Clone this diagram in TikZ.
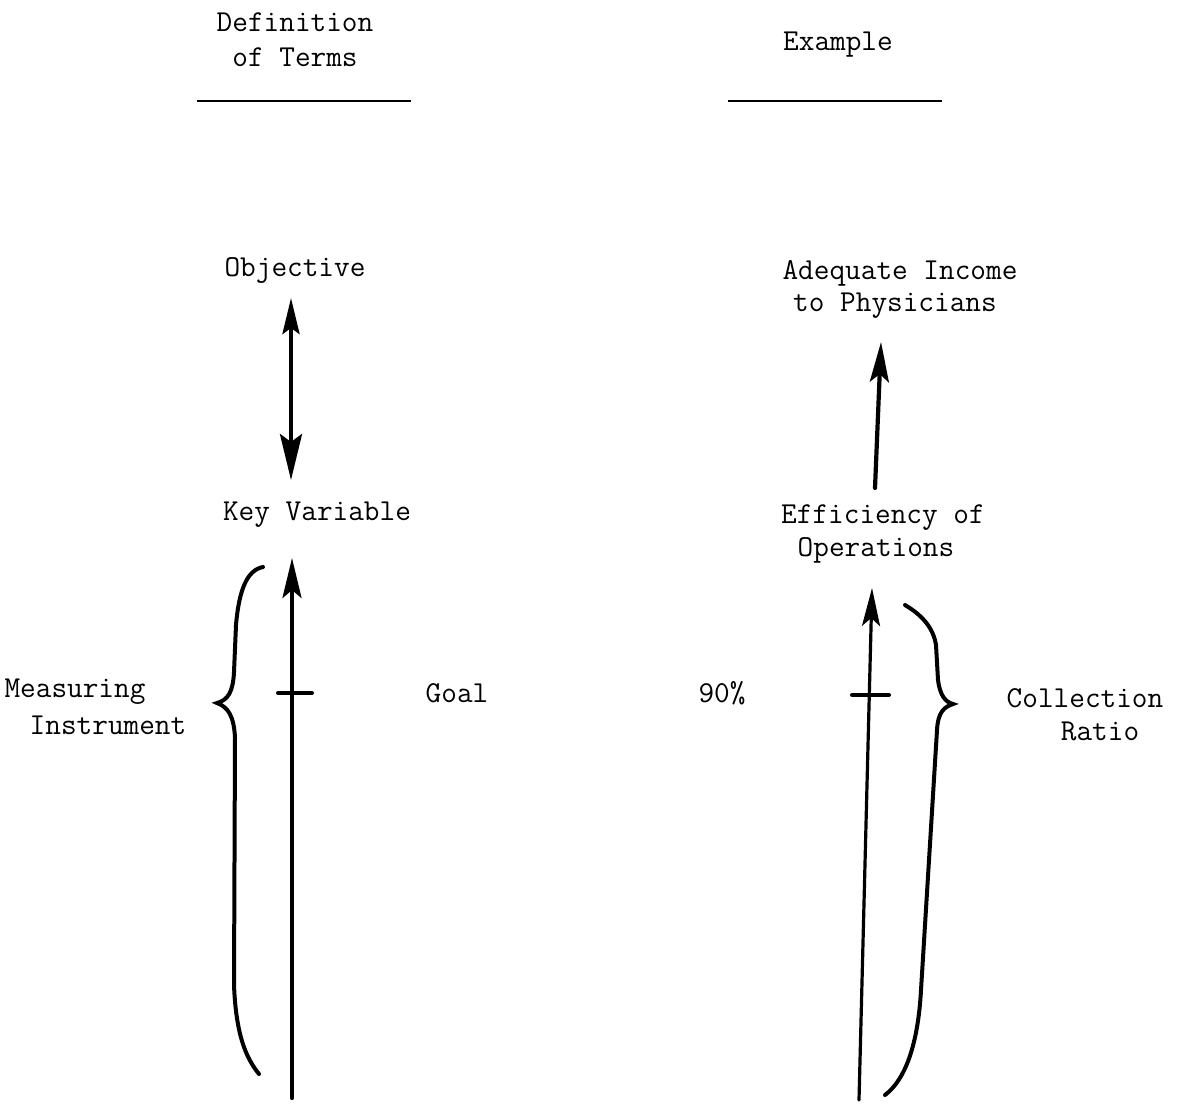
\documentclass[tikz,border=0pt]{standalone}
\usepackage{fontspec}
\usetikzlibrary{arrows.meta}
\begin{document}
\begin{tikzpicture}[x=0.5pt,y=-0.5pt,
  lbl/.style={font=\ttfamily\fontsize{15.2}{16.5}\selectfont, inner sep=0pt, align=center},
  rule/.style={line width=1.1pt},
  shaft/.style={line width=2.1pt, line cap=round},
  thinshaft/.style={line width=1.6pt, line cap=round},
  head/.style={-{Stealth[length=20pt,width=9.5pt,inset=4pt]}},
  brace/.style={line width=2pt, line cap=round},
  tick/.style={line width=2pt, line cap=round}]
\useasboundingbox (0,0) rectangle (1182,1103);

% column headings
\node[lbl] (defA) at (295,22) {Definition};
\node[lbl] (defB) at (295,57) {of Terms};
\node[lbl] (ex) at (838,45) {Example};
\draw[rule] (197,101) -- (411,101);
\draw[rule] (728,101) -- (942,101);

% left column: definitions
\node[lbl] (obj) at (295,270) {Objective};
\node[lbl] (kv) at (317,515) {Key Variable};
\node[lbl] (meas) at (75,692) {Measuring};
\node[lbl] (inst) at (108,725) {Instrument};
\node[lbl] (goal) at (457,693) {Goal};

\coordinate (dTop) at (291,298);
\coordinate (dBot) at (291,480);
\draw[shaft, {Stealth[length=18pt,width=8.5pt,inset=3pt]}-{Stealth[length=23pt,width=11pt,inset=4pt]}] (dTop) -- (dBot);

\coordinate (lBase) at (292,1098);
\coordinate (lTip) at (292,558);
\draw[shaft, head] (lBase) -- (lTip);
\coordinate (lTickA) at (278,693);
\coordinate (lTickB) at (312,693);
\draw[tick] (lTickA) -- (lTickB);

\draw[brace] (263,567) .. controls (247,570) and (239,590) .. (236,625)
  -- (234,672) .. controls (233,692) and (228,700) .. (217,703)
  .. controls (228,707) and (234,716) .. (235,738)
  -- (234,985) .. controls (236,1035) and (246,1058) .. (259,1074);

% right column: example
\node[lbl] (inc1) at (900,273) {Adequate Income};
\node[lbl] (inc2) at (895,306) {to Physicians};
\node[lbl] (eff1) at (883,518) {Efficiency of};
\node[lbl] (eff2) at (876,550) {Operations};
\node[lbl] (pct) at (722,693) {90\%};
\node[lbl] (col1) at (1085,698) {Collection};
\node[lbl] (col2) at (1100,731) {Ratio};

\coordinate (rBase) at (875,488);
\coordinate (rTip) at (881,342);
\draw[shaft, head] (rBase) -- (rTip);

\coordinate (mBase) at (859,1100);
\coordinate (mTip) at (872,588);
\draw[thinshaft, {Stealth[length=19pt,width=9pt,inset=4pt]}-] (mTip) -- (mBase);
\coordinate (rTickA) at (852,695);
\coordinate (rTickB) at (889,695);
\draw[tick] (rTickA) -- (rTickB);

\draw[brace] (905,605) .. controls (920,614) and (933,626) .. (936,645)
  -- (938,680) .. controls (940,695) and (945,702) .. (953,704)
  .. controls (944,707) and (938,712) .. (937,730)
  -- (921,990) .. controls (918,1045) and (905,1080) .. (885,1095);
\end{tikzpicture}
\end{document}
